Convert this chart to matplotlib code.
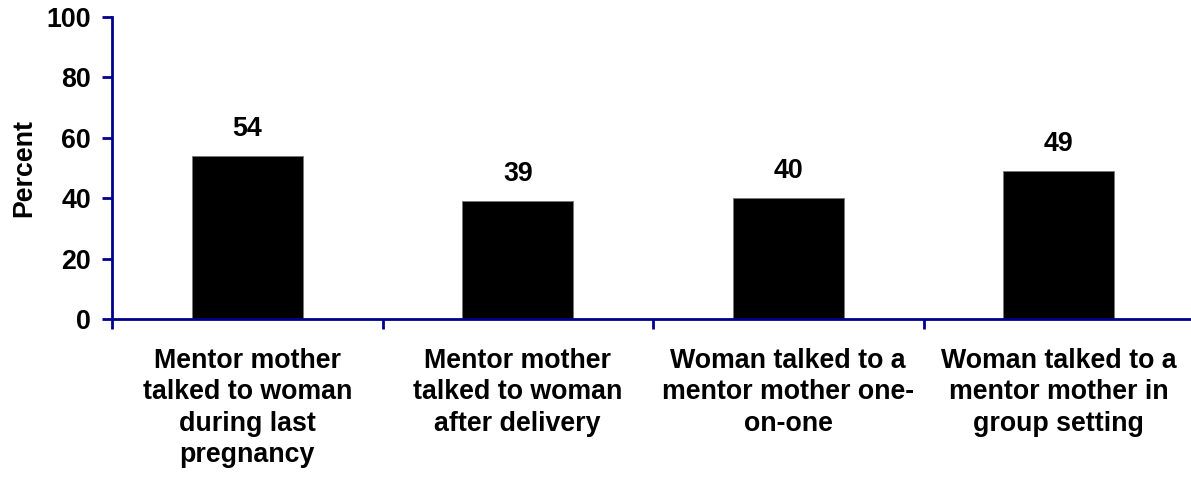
import matplotlib
matplotlib.use("Agg")
import matplotlib.pyplot as plt

categories = [
    "Mentor mother\ntalked to woman\nduring last\npregnancy",
    "Mentor mother\ntalked to woman\nafter delivery",
    "Woman talked to a\nmentor mother one-\non-one",
    "Woman talked to a\nmentor mother in\ngroup setting",
]
values = [54, 39, 40, 49]
yticks = [0, 20, 40, 60, 80, 100]

plt.rcParams['font.family'] = ['Liberation Sans', 'DejaVu Sans']
plt.rcParams['font.weight'] = 'bold'

axis_color = '#00008B'
fs = 19.3

fig = plt.figure(figsize=(11.91, 4.80), dpi=100)
ax = fig.add_axes([112/1191, 1-319/480, 1082/1191, (319-17)/480])

x = list(range(len(categories)))
bars = ax.bar(x, values, width=0.41, color='black', edgecolor='#777777', linewidth=0.6)

for xi, v in zip(x, values):
    ax.annotate(f"{v}", (xi, v), xytext=(0, 10), textcoords='offset points',
                ha='center', va='bottom', fontsize=fs, fontweight='bold')

ax.set_xlim(-0.5, len(categories) - 0.5)
ax.set_ylim(0, 100)
ax.set_yticks(yticks)
ax.set_yticklabels([str(t) for t in yticks], fontsize=fs, fontweight='bold')

ax.set_xticks([i - 0.5 for i in range(len(categories) + 1)])
ax.set_xticklabels([])
ax.set_xticks(x, minor=True)
ax.set_xticklabels(categories, minor=True, fontsize=fs, fontweight='bold', linespacing=1.26)
ax.tick_params(axis='x', which='minor', length=0, pad=21)
ax.tick_params(axis='x', which='major', length=7, width=2, color=axis_color, direction='out')
ax.tick_params(axis='y', length=7, width=2, color=axis_color, direction='out', pad=8)

for s in ['top', 'right']:
    ax.spines[s].set_visible(False)
for s in ['left', 'bottom']:
    ax.spines[s].set_color(axis_color)
    ax.spines[s].set_linewidth(2)

ax.set_ylabel("Percent", fontsize=fs, fontweight='bold', labelpad=7)

fig.savefig("out.png", dpi=100)
